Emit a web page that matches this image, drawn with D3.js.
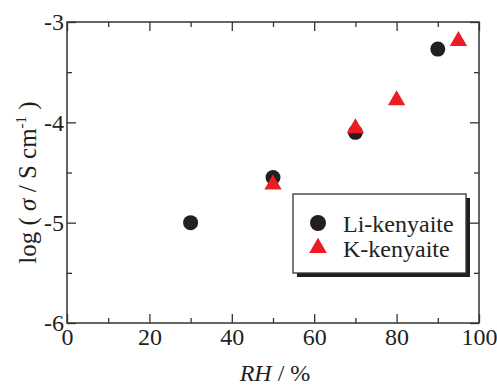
<!DOCTYPE html>
<html>
<head>
<meta charset="utf-8">
<script src="https://cdn.jsdelivr.net/npm/d3@7"></script>
<style>
  body { margin: 0; background: #fff; }
</style>
</head>
<body>
<div id="chart"></div>
<script>
// data
var liRH = [30, 50, 70, 90];
var liLogSigma = [-5.0, -4.55, -4.10, -3.27];
var kRH = [50, 70, 80, 95];
var kLogSigma = [-4.62, -4.06, -3.78, -3.19];
var xTicks = [0, 20, 40, 60, 80, 100];
var yTicks = [-6, -5, -4, -3];
var seriesNames = ["Li-kenyaite", "K-kenyaite"];

var svgWidth = 497;
var svgHeight = 385;
var margin = { top: 22, right: 18, bottom: 62, left: 67 };
var width = svgWidth - margin.left - margin.right;
var height = svgHeight - margin.top - margin.bottom;

var serif = "'Liberation Serif', 'Times New Roman', serif";
var fontSize = "24px";
var axisColor = "#333";
var black = "#231f20";
var red = "#ed1c24";

var svg = d3.select("#chart").append("svg")
  .attr("width", svgWidth)
  .attr("height", svgHeight)
  .style("font-family", serif);

var g = svg.append("g")
  .attr("transform", `translate(${margin.left}, ${margin.top})`);

var x = d3.scaleLinear().domain([0, 100]).range([0, width]);
var y = d3.scaleLinear().domain([-6, -3]).range([height, 0]);

var xMinor = d3.range(10, 100, 20);
var yMinor = [-5.5, -4.5, -3.5];

function styleAxis(sel) {
  sel.attr("font-family", null).attr("font-size", null);
  sel.select(".domain").remove();
  sel.selectAll("line").attr("stroke", axisColor).attr("stroke-width", 1.3);
  sel.selectAll("text")
    .style("font-family", serif)
    .style("font-size", fontSize)
    .attr("fill", black);
}

// bottom
g.append("g").attr("transform", `translate(0, ${height})`)
  .call(d3.axisBottom(x).tickValues(xTicks).tickSizeInner(-9).tickSizeOuter(0).tickPadding(5)
    .tickFormat(d => d.toString()))
  .call(styleAxis);
g.append("g").attr("transform", `translate(0, ${height})`)
  .call(d3.axisBottom(x).tickValues(xMinor).tickSize(-5).tickFormat(""))
  .call(styleAxis);
// top
g.append("g")
  .call(d3.axisTop(x).tickValues(xTicks).tickSize(-9).tickFormat(""))
  .call(styleAxis);
g.append("g")
  .call(d3.axisTop(x).tickValues(xMinor).tickSize(-5).tickFormat(""))
  .call(styleAxis);
// left
g.append("g")
  .call(d3.axisLeft(y).tickValues(yTicks).tickSizeInner(-9).tickSizeOuter(0).tickPadding(3)
    .tickFormat(d => d.toString()))
  .call(styleAxis);
g.append("g")
  .call(d3.axisLeft(y).tickValues(yMinor).tickSize(-5).tickFormat(""))
  .call(styleAxis);
// right
g.append("g").attr("transform", `translate(${width}, 0)`)
  .call(d3.axisRight(y).tickValues(yTicks).tickSize(-9).tickFormat(""))
  .call(styleAxis);
g.append("g").attr("transform", `translate(${width}, 0)`)
  .call(d3.axisRight(y).tickValues(yMinor).tickSize(-5).tickFormat(""))
  .call(styleAxis);

// frame
g.append("rect")
  .attr("width", width)
  .attr("height", height)
  .attr("fill", "none")
  .attr("stroke", axisColor)
  .attr("stroke-width", 1.5);

// Li-kenyaite circles
g.selectAll(".li")
  .data(liRH)
  .enter()
  .append("circle")
  .attr("class", "li")
  .attr("cx", d => x(d))
  .attr("cy", (d, i) => y(liLogSigma[i]))
  .attr("r", 7.5)
  .attr("fill", black);

// K-kenyaite triangles
var tri = d3.symbol().type(d3.symbolTriangle).size(130);
g.selectAll(".k")
  .data(kRH)
  .enter()
  .append("path")
  .attr("class", "k")
  .attr("d", tri)
  .attr("transform", (d, i) => `translate(${x(d)}, ${y(kLogSigma[i])})`)
  .attr("fill", red);

// legend
var legend = svg.append("g").attr("transform", "translate(293, 194)");
legend.append("rect")
  .attr("x", 4).attr("y", 4)
  .attr("width", 173).attr("height", 79)
  .attr("fill", black);
legend.append("rect")
  .attr("width", 173).attr("height", 79)
  .attr("fill", "#fff")
  .attr("stroke", axisColor)
  .attr("stroke-width", 1.3);
legend.append("circle")
  .attr("cx", 25).attr("cy", 29).attr("r", 8)
  .attr("fill", black);
legend.append("path")
  .attr("d", d3.symbol().type(d3.symbolTriangle).size(135))
  .attr("transform", "translate(25, 54)")
  .attr("fill", red);
legend.selectAll(".lt")
  .data(seriesNames)
  .enter()
  .append("text")
  .attr("class", "lt")
  .attr("x", 50)
  .attr("y", (d, i) => 38 + i * 25)
  .attr("fill", black)
  .style("font-family", serif)
  .style("font-size", fontSize)
  .text(d => d);

// axis titles
var xTitle = svg.append("text")
  .attr("x", margin.left + width / 2 + 2)
  .attr("y", 381)
  .attr("text-anchor", "middle")
  .attr("fill", black)
  .style("font-family", serif)
  .style("font-size", fontSize);
xTitle.append("tspan").style("font-style", "italic").text("RH");
xTitle.append("tspan").text(" / %");

var yTitle = svg.append("text")
  .attr("transform", `translate(36, ${margin.top + height / 2 + 10}) rotate(-90)`)
  .attr("text-anchor", "middle")
  .attr("fill", black)
  .style("font-family", serif)
  .style("font-size", "25px");
yTitle.append("tspan").text("log ( ");
yTitle.append("tspan").style("font-style", "italic").text("σ");
yTitle.append("tspan").text(" / S cm");
yTitle.append("tspan").attr("dy", -10).style("font-size", "15px").text("-1");
yTitle.append("tspan").attr("dy", 10).text(" )");
</script>
</body>
</html>
